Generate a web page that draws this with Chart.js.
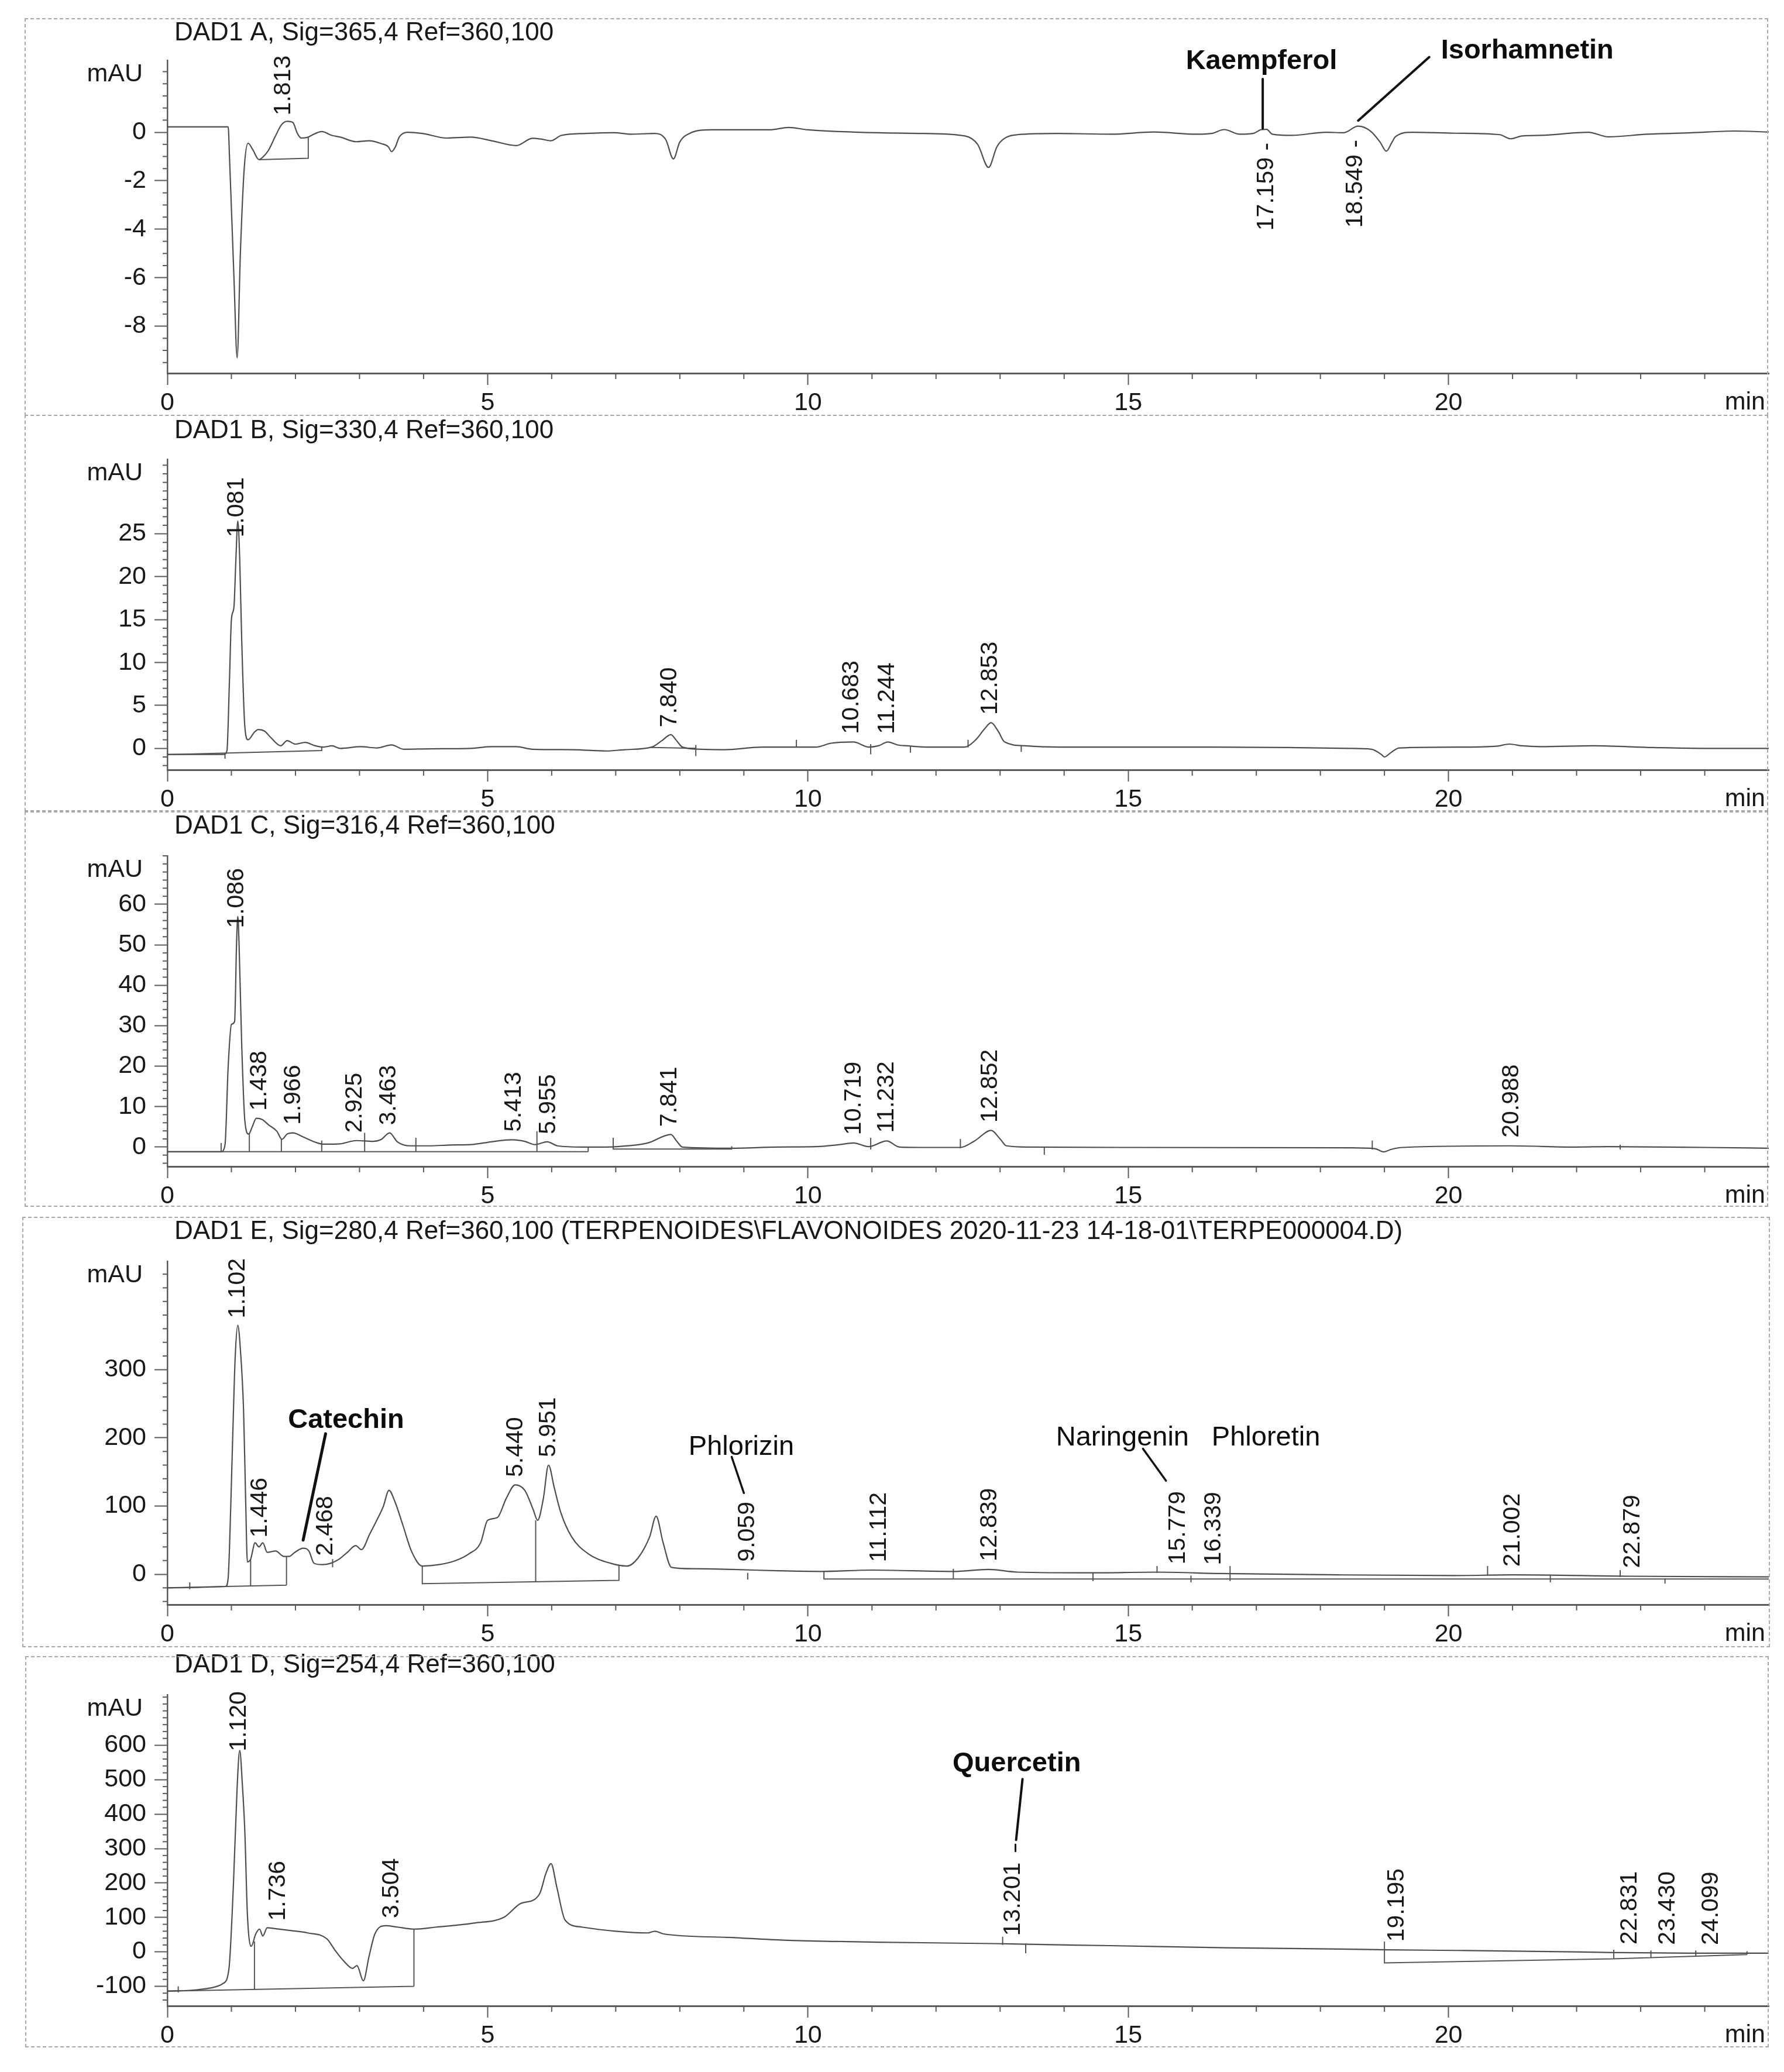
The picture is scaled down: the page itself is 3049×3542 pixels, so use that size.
<!DOCTYPE html>
<html>
<head>
<meta charset="utf-8">
<title>DAD1 chromatograms</title>
<script src="https://cdn.jsdelivr.net/npm/chart.js@4.4.1/dist/chart.umd.min.js"></script>
<style>
  body { margin: 0; background: #fff; width: 3049px; height: 3542px; position: relative; overflow: hidden; }
  .frame { position: absolute; border: 2px dashed #a8a8a8; box-sizing: border-box; pointer-events: none; }
</style>
</head>
<body>
<script>
//************************* data (time in min, signal in mAU) **************************
// DAD1 A, 365 nm
const aTime = [0, 0.95, 0.97, 1.04, 1.09, 1.14, 1.2, 1.26, 1.33, 1.43, 1.5, 1.58, 1.68, 1.78, 1.87, 1.96,
  2.03, 2.09, 2.2, 2.25, 2.41, 2.57, 2.7, 2.95, 3.15, 3.34, 3.45, 3.5, 3.56, 3.62, 3.75, 3.98,
  4.36, 4.74, 5.06, 5.45, 5.7, 5.83, 5.99, 6.15, 6.53, 6.98, 7.24, 7.6, 7.78, 7.9, 8.0, 8.15,
  8.5, 9.0, 9.4, 9.7, 10.0, 10.8, 11.8, 12.45, 12.65, 12.82, 12.95, 13.07, 13.27, 13.9, 14.73, 15.4,
  16.07, 16.3, 16.5, 16.74, 16.95, 17.08, 17.16, 17.25, 17.55, 18.09, 18.36, 18.59, 18.79, 18.93, 19.03, 19.12,
  19.17, 19.43, 20.1, 20.8, 20.97, 21.15, 21.44, 22.18, 22.5, 23.1, 23.8, 24.46, 25];
const aSignal = [0.22, 0.22, -1.0, -6.0, -9.3, -5.0, -1.5, -0.45, -0.7, -1.13, -1.0, -0.74, -0.2, 0.3, 0.45, 0.4,
  -0.05, -0.24, -0.2, -0.13, 0.03, -0.13, -0.2, -0.39, -0.35, -0.47, -0.6, -0.8, -0.6, -0.2, 0, -0.05,
  -0.24, -0.2, -0.35, -0.55, -0.25, -0.28, -0.35, -0.13, -0.05, -0.02, -0.08, -0.05, -0.3, -1.1, -0.4, -0.05,
  0.1, 0.1, 0.1, 0.2, 0.1, 0, -0.05, -0.15, -0.5, -1.45, -0.6, -0.25, -0.1, -0.05, -0.08, 0.01,
  -0.08, -0.05, 0.11, -0.08, -0.05, 0.11, 0.12, -0.08, -0.13, 0, -0.02, 0.25, 0.03, -0.4, -0.78, -0.4,
  -0.19, 0, -0.04, -0.1, -0.27, -0.15, -0.13, 0, -0.19, -0.08, -0.02, 0.05, 0.01];
const aBaseline = [[1.43, -1.13, 2.2, -1.07, 2.2, -0.2]];
const aPeaks = [1.813];
const aPeaksBelow = [17.159, 18.549];
const aTicks = [0, -2, -4, -6, -8];
const aCompounds = ['Kaempferol', 'Isorhamnetin'];

// DAD1 B, 330 nm
const bTime = [
  0, 0.88, 0.93, 0.97, 1.0, 1.04, 1.07, 1.1,
  1.13, 1.16, 1.21, 1.26, 1.36, 1.42, 1.52, 1.61,
  1.77, 1.87, 2.0, 2.15, 2.31, 2.44, 2.57, 2.7,
  3.02, 3.27, 3.5, 3.69, 4.1, 4.74, 5.06, 5.45,
  5.7, 6.34, 6.85, 7.14, 7.56, 7.72, 7.86, 7.95,
  8.04, 8.33, 8.69, 9.29, 9.76, 10.12, 10.36, 10.71,
  10.95, 11.1, 11.25, 11.4, 11.55, 11.9, 12.44, 12.62,
  12.75, 12.86, 12.97, 13.07, 13.39, 13.93, 15.12, 16.31,
  17.5, 18.45, 18.8, 18.95, 19.0, 19.1, 19.23, 20.24,
  20.75, 20.95, 21.15, 21.43, 22.26, 23.2, 24.0, 25];
const bSignal = [
  -0.7, -0.7, -0.3, 8, 15, 16.5, 22, 26.5,
  22, 12.9, 2.5, 1.0, 1.9, 2.2, 2.0, 1.3,
  0.3, 0.9, 0.5, 0.7, 0.3, 0.15, 0.3, 0.0,
  0.2, 0.05, 0.4, -0.1, -0.05, 0.0, 0.2, 0.2,
  -0.1, -0.15, -0.3, -0.15, 0.15, 0.9, 1.6, 0.9,
  0.15, -0.1, -0.15, 0.15, 0.15, 0.15, 0.6, 0.74,
  0.15, 0.3, 0.74, 0.4, 0.3, 0.15, 0.15, 1.0,
  2.2, 3.0, 2.0, 0.75, 0.3, 0.15, 0.15, 0.15,
  0.1, 0.0, -0.1, -0.7, -1.0, -0.5, 0.05, 0.15,
  0.25, 0.5, 0.3, 0.2, 0.3, 0.1, 0.0, 0.0];
const bBaseline = [[0, -0.72, 2.41, -0.25, 2.41, 0.2], [0.9, -0.7, 0.9, -1.2], [7.55, 0.1, 8.25, 0.0],
  [8.25, 0.4, 8.25, -0.9], [9.82, 1.0, 9.82, 0.1], [10.98, 0.5, 10.98, -0.7], [11.6, 0.3, 11.6, -0.5],
  [12.5, 1.0, 12.5, 0.1], [13.33, 0.3, 13.33, -0.4]];
const bPeaks = [1.081, 7.840, 10.683, 11.244, 12.853];
const bTicks = [0, 5, 10, 15, 20, 25];

// DAD1 C, 316 nm
const cTime = [
  0, 0.84, 0.9, 0.95, 1.0, 1.05, 1.08, 1.1,
  1.12, 1.16, 1.21, 1.27, 1.32, 1.39, 1.48, 1.58,
  1.71, 1.79, 1.87, 1.96, 2.12, 2.31, 2.44, 2.7,
  2.95, 3.21, 3.34, 3.47, 3.59, 3.79, 4.1, 4.42,
  4.74, 5.06, 5.38, 5.58, 5.74, 5.93, 6.09, 6.47,
  6.85, 7.02, 7.5, 7.86, 7.95, 8.04, 8.81, 9.52,
  10.12, 10.5, 10.71, 10.95, 11.23, 11.43, 11.9, 12.38,
  12.6, 12.86, 13.0, 13.1, 13.45, 14.88, 18.45, 18.85,
  18.99, 19.1, 19.29, 20.95, 22.0, 22.5, 24.0, 25];
const cSignal = [
  -1.16, -1.16, 0.5, 20, 30.3, 31, 50, 57,
  50, 25.8, 6.5, 3.2, 4.8, 7.1, 6.8, 5.5,
  3.9, 1.9, 3.2, 3.5, 2.5, 1.2, 0.7, 0.8,
  1.6, 1.4, 1.9, 3.5, 1.3, 0.3, 0.3, 0.5,
  0.6, 1.3, 1.8, 1.4, 0.6, 1.3, 0.3, 0.0,
  0.0, 0.1, 1.0, 3.1, 1.5, 0.0, -0.3, 0.0,
  0.1, 0.6, 1.0, 0.1, 1.5, 0.0, -0.1, -0.1,
  1.5, 4.1, 2.0, 0.3, 0.0, -0.1, -0.2, -0.4,
  -1.2, -0.6, -0.1, 0.3, 0.0, 0.1, -0.1, -0.3];
const cBaseline = [[0, -1.16, 6.57, -1.16], [0.84, -1.16, 0.84, 1.0], [1.28, -1.16, 1.28, 3.5],
  [1.78, -1.16, 1.78, 2.0], [2.41, -1.16, 2.41, 1.6], [3.08, -1.16, 3.08, 3.5], [3.88, -1.16, 3.88, 2.3],
  [5.77, -1.16, 5.77, 3.9], [6.57, -1.16, 6.57, 0.1], [6.96, 2.3, 6.96, -0.5, 8.81, -0.5, 8.81, 0.2],
  [10.98, 2.3, 10.98, -0.6], [12.38, 2.0, 12.38, -0.3], [13.69, 0.0, 13.69, -1.9],
  [18.81, 1.6, 18.81, -0.6], [22.68, 0.6, 22.68, -0.6]];
const cPeaks = [1.086, 1.438, 1.966, 2.925, 3.463, 5.413, 5.955, 7.841, 10.719, 11.232, 12.852, 20.988];
const cTicks = [0, 10, 20, 30, 40, 50, 60];

// DAD1 E, 280 nm
const eTime = [
  0, 0.91, 0.95, 0.99, 1.02, 1.06, 1.1, 1.14,
  1.19, 1.22, 1.25, 1.3, 1.37, 1.43, 1.49, 1.56,
  1.69, 1.82, 1.9, 1.99, 2.12, 2.21, 2.29, 2.42,
  2.55, 2.68, 2.81, 2.94, 3.03, 3.16, 3.29, 3.37,
  3.46, 3.55, 3.68, 3.81, 3.98, 4.24, 4.5, 4.71,
  4.89, 5.0, 5.15, 5.29, 5.43, 5.58, 5.71, 5.78,
  5.87, 5.95, 6.04, 6.14, 6.31, 6.57, 6.92, 7.18,
  7.35, 7.53, 7.63, 7.74, 7.87, 8.22, 8.82, 9.52,
  10.21, 11.0, 12.27, 12.82, 13.27, 14.45, 15.45, 16.45,
  18.27, 20.09, 21.0, 22.82, 25];
const eSignal = [
  -20, -18, -5, 100, 200, 320, 365, 330,
  240, 120, 18, 22, 46, 40, 46, 32,
  34, 26, 26, 32, 38, 34, 16, 14,
  16, 22, 32, 42, 36, 59, 83, 99,
  123, 107, 71, 34, 12, 14, 20, 30,
  46, 79, 83, 111, 131, 123, 95, 79,
  111, 160, 127, 91, 55, 30, 16, 12,
  24, 55, 85, 46, 10, 8, 7, 5,
  4, 6, 4, 7, 3, 2, 3, 1,
  -1, -2, -1, -3, -4];
const eBaseline = [[0, -20, 1.86, -16], [0.35, -22, 0.35, -12], [1.3, -17.5, 1.3, 22], [1.86, -16, 1.86, 26],
  [2.58, 10, 2.58, 22], [3.98, 12, 3.98, -14, 7.05, -9, 7.05, 14], [5.75, -12, 5.75, 79], [9.06, 2, 9.06, -8],
  [10.25, 4, 10.25, -7, 25, -7], [12.27, 8, 12.27, -8], [14.45, 2, 14.45, -10], [15.45, 12, 15.45, 2],
  [15.98, -2, 15.98, -12], [16.59, 12, 16.59, -10], [20.61, 12, 20.61, -2], [21.59, -2, 21.59, -12],
  [22.68, 6, 22.68, -4], [23.38, -6, 23.38, -14]];
const ePeaks = [1.102, 1.446, 2.468, 5.440, 5.951, 9.059, 11.112, 12.839, 15.779, 16.339, 21.002, 22.879];
const eTicks = [0, 100, 200, 300];
const eCompounds = ['Catechin', 'Phlorizin', 'Naringenin', 'Phloretin'];

// DAD1 D, 254 nm
const dTime = [
  0, 0.35, 0.7, 0.87, 0.96, 1.03, 1.09, 1.13,
  1.17, 1.21, 1.25, 1.31, 1.38, 1.44, 1.49, 1.56,
  1.66, 1.92, 2.19, 2.49, 2.62, 2.76, 2.89, 2.96,
  3.06, 3.15, 3.24, 3.41, 3.59, 3.85, 4.2, 4.81,
  5.25, 5.51, 5.73, 5.82, 5.91, 5.99, 6.08, 6.21,
  6.47, 7.0, 7.5, 7.61, 7.75, 8.75, 9.62, 10.5,
  11.1, 12.9, 13.44, 14.71, 16.52, 18.33, 19.05, 20.14,
  21.94, 22.58, 23.75, 25];
const dSignal = [
  -114, -112, -104, -92, -52, 188, 480, 585,
  490, 348, 108, 16, 52, 66, 46, 70,
  68, 62, 55, 38, 4, -28, -48, -40,
  -84, -12, 52, 76, 72, 66, 72, 84,
  100, 140, 152, 172, 228, 256, 188, 92,
  72, 60, 55, 60, 52, 42, 34, 30,
  28, 24, 22, 18, 12, 8, 6, 4,
  0, -2, -4, -4];
const dBaseline = [[0, -114, 3.85, -100], [0.17, -118, 0.17, -100], [1.36, -110, 1.36, 30], [3.85, -100, 3.85, 66],
  [13.04, 44, 13.04, 20], [13.4, 24, 13.4, -4], [19.0, 30, 19.0, -32, 22.58, -20, 24.66, -8],
  [22.58, 6, 22.58, -20], [23.16, 4, 23.16, -18], [23.86, 4, 23.86, -12], [24.66, 2, 24.66, -8]];
const dPeaks = [1.120, 1.736, 3.504, 13.201, 19.195, 22.831, 23.430, 24.099];
const dTicks = [-100, 0, 100, 200, 300, 400, 500, 600];
const dCompounds = ['Quercetin'];

const xTicks = [0, 5, 10, 15, 20];

//************************* layout / styles **************************
const FONT = '"Liberation Sans", Arial, sans-serif';
const INK = '#181818';
const AXIS = '#5a5a5a';
const TRACE = '#4e4e4e';
const PLOT_LEFT = 286;
const PLOT_RIGHT = 3023;
const X_BOX = 78;
const LABEL_GAP = 14;
const LABEL_HALF = 16;

Chart.defaults.font.family = FONT;

const panels = [
  { title: 'DAD1 A, Sig=365,4 Ref=360,100', time: aTime, signal: aSignal, baseline: aBaseline,
    peaks: aPeaks, peaksBelow: aPeaksBelow, yTicks: aTicks, minorStep: 0.5, yMin: -9.94, yMax: 2.97,
    frame: [42, 31, 3022, 711], plot: [103, 638], titleY: 57,
    notes: [{ text: aCompounds[0], t: 17.08, v: 2.93, bold: true }, { text: aCompounds[1], t: 21.23, v: 3.35, bold: true }],
    leaders: [[17.1, 2.2, 17.1, 0.15, 4], [19.7, 3.1, 18.59, 0.48, 4]] },
  { title: 'DAD1 B, Sig=330,4 Ref=360,100', time: bTime, signal: bSignal, baseline: bBaseline,
    peaks: bPeaks, peaksBelow: [], yTicks: bTicks, minorStep: 1, yMin: -2.5, yMax: 33.7,
    frame: [42, 709, 3022, 1387], plot: [785, 1316], titleY: 737, notes: [], leaders: [] },
  { title: 'DAD1 C, Sig=316,4 Ref=360,100', time: cTime, signal: cSignal, baseline: cBaseline,
    peaks: cPeaks, peaksBelow: [], yTicks: cTicks, minorStep: 2, yMin: -4.8, yMax: 72,
    frame: [42, 1387, 3022, 2063], plot: [1463, 1994], titleY: 1413, notes: [], leaders: [] },
  { title: 'DAD1 E, Sig=280,4 Ref=360,100 (TERPENOIDES\\FLAVONOIDES 2020-11-23 14-18-01\\TERPE000004.D)',
    time: eTime, signal: eSignal, baseline: eBaseline,
    peaks: ePeaks, peaksBelow: [], yTicks: eTicks, minorStep: 20, yMin: -44.6, yMax: 459,
    frame: [38, 2080, 3025, 2816], plot: [2156, 2743], titleY: 2106,
    notes: [{ text: eCompounds[0], t: 2.79, v: 226, bold: true }, { text: eCompounds[1], t: 8.96, v: 186 },
            { text: eCompounds[2], t: 14.91, v: 200 }, { text: eCompounds[3], t: 17.15, v: 200 }],
    leaders: [[2.47, 206, 2.12, 50, 5], [8.81, 172, 9.0, 119, 3.5], [15.23, 184, 15.59, 137, 3.5]] },
  { title: 'DAD1 D, Sig=254,4 Ref=360,100', time: dTime, signal: dSignal, baseline: dBaseline,
    peaks: dPeaks, peaksBelow: [], yTicks: dTicks, minorStep: 20, yMin: -157, yMax: 747,
    frame: [43, 2831, 3023, 3500], plot: [2897, 3429], titleY: 2847,
    notes: [{ text: dCompounds[0], t: 13.26, v: 547, bold: true }],
    leaders: [[13.35, 502, 13.25, 325, 4], [13.24, 312, 13.24, 292, 3]] }
];

//************************* helpers **************************
const valueAt = (times, vals, t) => {
  if (t <= times[0]) return vals[0];
  for (let i = 1; i < times.length; i++) {
    if (times[i] >= t) {
      const f = (t - times[i - 1]) / (times[i] - times[i - 1]);
      return vals[i - 1] + f * (vals[i] - vals[i - 1]);
    }
  }
  return vals[vals.length - 1];
};

// lowest point of the trace under a label (labels written below the trace)
const lowestNear = (times, vals, t, w) => {
  let best = Math.min(valueAt(times, vals, t), valueAt(times, vals, t - w), valueAt(times, vals, t + w));
  times.forEach((s, i) => { if (s > t - w && s < t + w) best = Math.min(best, vals[i]); });
  return best;
};

const rotatedText = (ctx, text, x, y, align) => {
  ctx.save();
  ctx.translate(x, y);
  ctx.rotate(-Math.PI / 2);
  ctx.textAlign = align;
  ctx.textBaseline = 'middle';
  ctx.fillText(text, 0, 0);
  ctx.restore();
};

const line = (ctx, x1, y1, x2, y2) => {
  ctx.beginPath();
  ctx.moveTo(x1, y1);
  ctx.lineTo(x2, y2);
  ctx.stroke();
};

// titles, minor ticks, retention times and compound names
const annotPlugin = (p, canvasTop) => ({
  id: 'annot',
  afterDraw(chart) {
    const ctx = chart.ctx;
    const xs = chart.scales.x;
    const ys = chart.scales.y;
    const area = chart.chartArea;
    ctx.save();
    ctx.fillStyle = INK;

    ctx.font = `44px ${FONT}`;
    ctx.textAlign = 'left';
    ctx.textBaseline = 'middle';
    ctx.fillText(p.title, 298, p.titleY - canvasTop);

    ctx.font = `43px ${FONT}`;
    ctx.textAlign = 'right';
    ctx.fillText('mAU', 244, area.top + 24);
    ctx.fillText('min', 3017, area.bottom + 50);

    // minor ticks
    ctx.strokeStyle = AXIS;
    ctx.lineWidth = 2;
    for (let t = 1; t < 25; t++) {
      if (t % 5 === 0) continue;
      const px = xs.getPixelForValue(t);
      line(ctx, px, area.bottom, px, area.bottom + 10);
    }
    const first = Math.ceil(p.yMin / p.minorStep);
    for (let k = first; k * p.minorStep <= p.yMax; k++) {
      const v = k * p.minorStep;
      if (p.yTicks.includes(Math.round(v * 100) / 100)) continue;
      const py = ys.getPixelForValue(v);
      line(ctx, area.left - 8, py, area.left, py);
    }

    // retention time labels
    const w = xs.getValueForPixel(area.left + LABEL_HALF) - xs.getValueForPixel(area.left);
    ctx.font = `41px ${FONT}`;
    p.peaks.forEach(rt => {
      const v = valueAt(p.time, p.signal, rt);
      rotatedText(ctx, rt.toFixed(3), xs.getPixelForValue(rt), ys.getPixelForValue(v) - LABEL_GAP, 'left');
    });
    p.peaksBelow.forEach(rt => {
      const low = lowestNear(p.time, p.signal, rt, w);
      rotatedText(ctx, rt.toFixed(3) + ' -', xs.getPixelForValue(rt), ys.getPixelForValue(low) + LABEL_GAP, 'right');
    });

    // compound names with leader lines
    ctx.strokeStyle = '#111';
    ctx.lineCap = 'round';
    p.leaders.forEach(l => {
      ctx.lineWidth = l[4];
      line(ctx, xs.getPixelForValue(l[0]), ys.getPixelForValue(l[1]), xs.getPixelForValue(l[2]), ys.getPixelForValue(l[3]));
    });
    ctx.textAlign = 'center';
    ctx.textBaseline = 'middle';
    ctx.fillStyle = '#0c0c0c';
    p.notes.forEach(n => {
      ctx.font = `${n.bold ? 'bold ' : ''}47px ${FONT}`;
      ctx.fillText(n.text, xs.getPixelForValue(n.t), ys.getPixelForValue(n.v));
    });
    ctx.restore();
  }
});

//************************* build the five panels **************************
panels.forEach(p => {
  const canvasTop = p.frame[1] - 20;
  const h = p.frame[3] + 20 - canvasTop;
  const holder = document.createElement('div');
  holder.style.cssText = `position:absolute;left:0;top:${canvasTop}px;width:3049px;height:${h}px`;
  const canvas = document.createElement('canvas');
  canvas.width = 3049;
  canvas.height = h;
  holder.appendChild(canvas);
  document.body.appendChild(holder);

  const frame = document.createElement('div');
  frame.className = 'frame';
  frame.style.left = p.frame[0] + 'px';
  frame.style.top = p.frame[1] + 'px';
  frame.style.width = (p.frame[2] - p.frame[0]) + 'px';
  frame.style.height = (p.frame[3] - p.frame[1]) + 'px';
  document.body.appendChild(frame);

  const plotTop = p.plot[0] - canvasTop;
  const plotBottom = p.plot[1] - canvasTop;

  const traceData = p.time.map((t, i) => ({ x: t, y: p.signal[i] }));
  const baseData = [];
  p.baseline.forEach(seg => {
    for (let i = 0; i < seg.length; i += 2) baseData.push({ x: seg[i], y: seg[i + 1] });
    baseData.push({ x: seg[seg.length - 2], y: null });
  });

  new Chart(canvas, {
    type: 'line',
    data: {
      datasets: [
        { data: traceData, borderColor: TRACE, borderWidth: 2.2, pointRadius: 0,
          cubicInterpolationMode: 'monotone', fill: false },
        { data: baseData, borderColor: '#555', borderWidth: 2, pointRadius: 0, tension: 0,
          spanGaps: false, fill: false }
      ]
    },
    options: {
      responsive: false,
      animation: false,
      devicePixelRatio: 1,
      layout: {
        autoPadding: false,
        padding: { left: 0, right: 3049 - PLOT_RIGHT, top: plotTop, bottom: h - plotBottom - X_BOX }
      },
      plugins: { legend: { display: false }, tooltip: { enabled: false }, title: { display: false } },
      scales: {
        x: {
          type: 'linear', min: 0, max: 25,
          afterFit: s => { s.height = X_BOX; },
          afterBuildTicks: s => { s.ticks = xTicks.map(v => ({ value: v })); },
          ticks: { callback: v => String(v), font: { size: 43 }, color: INK, padding: 5, maxRotation: 0, autoSkip: false },
          grid: { drawOnChartArea: false, tickLength: 20, tickColor: AXIS, tickWidth: 2 },
          border: { display: true, color: AXIS, width: 3 }
        },
        y: {
          type: 'linear', min: p.yMin, max: p.yMax,
          afterFit: s => { s.width = PLOT_LEFT; },
          afterBuildTicks: s => { s.ticks = p.yTicks.map(v => ({ value: v })); },
          ticks: { callback: v => String(v), font: { size: 43 }, color: INK, padding: 14, autoSkip: false },
          grid: { drawOnChartArea: false, tickLength: 22, tickColor: AXIS, tickWidth: 2 },
          border: { display: true, color: AXIS, width: 2.5 }
        }
      }
    },
    plugins: [annotPlugin(p, canvasTop)]
  });
});
</script>
</body>
</html>
